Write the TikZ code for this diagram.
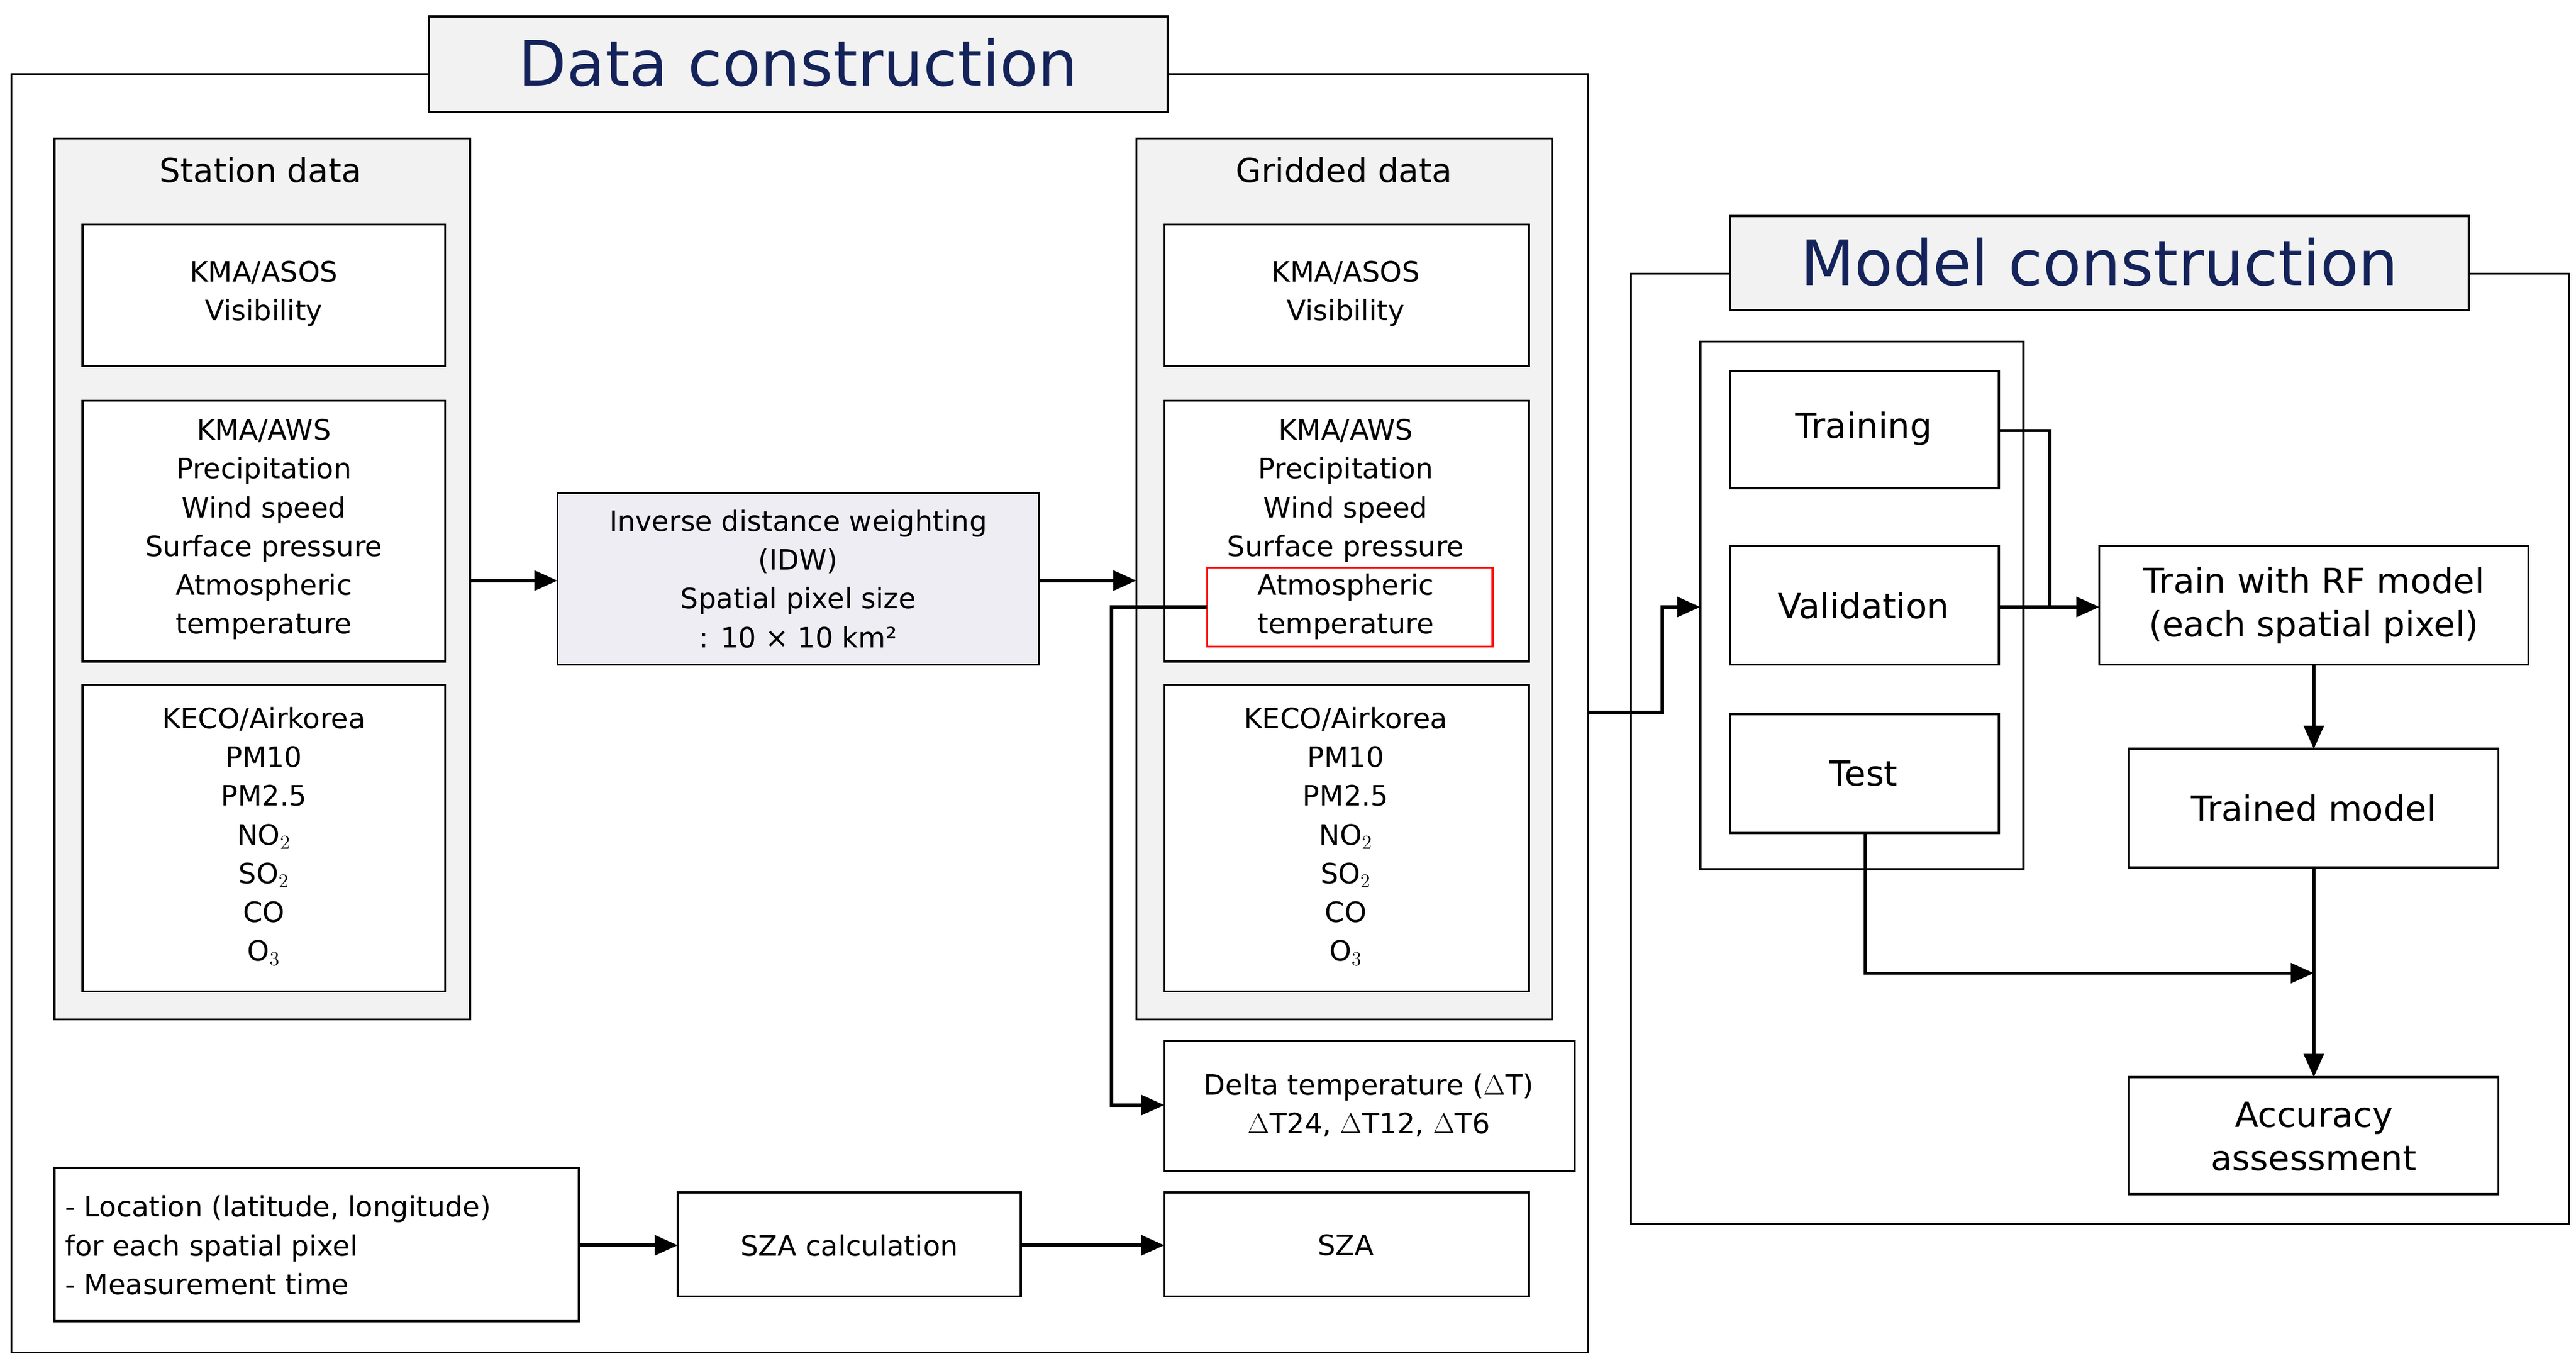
\documentclass[tikz,border=0pt]{standalone}
\usepackage{fontspec}
\setmainfont{DejaVu Sans}
\usetikzlibrary{arrows.meta}
\definecolor{navy}{RGB}{20,35,90}
\begin{document}
\begin{tikzpicture}[x=1pt,y=-1pt,
 bx/.style={draw,line width=1.2pt,fill=white},
 gbox/.style={draw,line width=1.2pt,fill=black!5},
 txt/.style={align=center,font=\fontsize{17}{23.5}\selectfont},
 ttl/.style={font=\fontsize{38}{44}\selectfont,text=navy},
 arr/.style={line width=2pt,-{Triangle[length=14pt,width=12pt]}},
 ln/.style={line width=2pt}]
\useasboundingbox (0,0) rectangle (1562,825);
% Data construction
\draw[line width=1.2pt] (7,45) rectangle (963,820);
\draw[gbox] (260,10) rectangle (708,68);
\node[ttl] (t1) at (484,38) {Data construction};
% Station
\draw[gbox] (33,84) rectangle (285,618);
\node[txt,font=\fontsize{20}{24}\selectfont] (sl) at (158,103) {Station data};
\draw[bx] (50,136) rectangle (270,222);
\node[txt] (s1) at (160,178) {KMA/ASOS\\Visibility};
\draw[bx] (50,243) rectangle (270,401);
\node[txt] (s2) at (160,321) {KMA/AWS\\Precipitation\\Wind speed\\Surface pressure\\Atmospheric\\temperature};
\draw[bx] (50,415) rectangle (270,601);
\node[txt] (s3) at (160,507) {KECO/Airkorea\\PM10\\PM2.5\\NO$_2$\\SO$_2$\\CO\\O$_3$};
% IDW
\draw[draw,line width=1.2pt,fill={rgb,255:red,238;green,237;blue,243}] (338,299) rectangle (630,403);
\node[txt] (idw) at (484,351) {Inverse distance weighting\\(IDW)\\Spatial pixel size\\: 10 × 10 km²};
% Gridded
\draw[gbox] (689,84) rectangle (941,618);
\node[txt,font=\fontsize{20}{24}\selectfont] (gl) at (815,103) {Gridded data};
\draw[bx] (706,136) rectangle (927,222);
\node[txt] (g1) at (816,178) {KMA/ASOS\\Visibility};
\draw[bx] (706,243) rectangle (927,401);
\draw[red,line width=1.2pt] (732,344) rectangle (905,392);
\node[txt] (g2) at (816,321) {KMA/AWS\\Precipitation\\Wind speed\\Surface pressure\\Atmospheric\\temperature};
\draw[bx] (706,415) rectangle (927,601);
\node[txt] (g3) at (816,507) {KECO/Airkorea\\PM10\\PM2.5\\NO$_2$\\SO$_2$\\CO\\O$_3$};
\draw[bx] (706,631) rectangle (955,710);
\node[txt] (dt) at (830,670) {Delta temperature ($\Delta$T)\\$\Delta$T24, $\Delta$T12, $\Delta$T6};
% Bottom row
\draw[bx] (33,708) rectangle (351,801);
\node[txt,align=left,anchor=west] (loc) at (36,755) {- Location (latitude, longitude)\\for each spatial pixel\\- Measurement time};
\draw[bx] (411,723) rectangle (619,786);
\node[txt] (szac) at (515,755) {SZA calculation};
\draw[bx] (706,723) rectangle (927,786);
\node[txt] (sza) at (816,755) {SZA};
\coordinate (a1) at (285,352); \coordinate (a2) at (338,352);
\coordinate (a3) at (630,352); \coordinate (a4) at (689,352);
\coordinate (r1) at (732,368); \coordinate (r2) at (674,368); \coordinate (r3) at (674,670); \coordinate (r4) at (706,670);
\coordinate (l1) at (351,755); \coordinate (l2) at (411,755); \coordinate (l3) at (619,755); \coordinate (l4) at (706,755);
\draw[arr] (a1) -- (a2);
\draw[arr] (a3) -- (a4);
\draw[arr] (r1) -- (r2) -- (r3) -- (r4);
\draw[arr] (l1) -- (l2);
\draw[arr] (l3) -- (l4);
% Model construction
\draw[line width=1.2pt] (989,166) rectangle (1558,742);
\draw[gbox] (1049,131) rectangle (1497,188);
\node[ttl] (t2) at (1273,159) {Model construction};
\draw[bx] (1031,207) rectangle (1227,527);
\draw[bx] (1049,225) rectangle (1212,296);
\node[txt,font=\fontsize{21}{26}\selectfont] (tr) at (1130,260) {Training};
\draw[bx] (1049,331) rectangle (1212,403);
\node[txt,font=\fontsize{21}{26}\selectfont] (va) at (1130,367) {Validation};
\draw[bx] (1049,433) rectangle (1212,505);
\node[txt,font=\fontsize{21}{26}\selectfont] (te) at (1130,469) {Test};
\draw[bx] (1273,331) rectangle (1533,403);
\node[txt,font=\fontsize{21}{26}\selectfont] (rf) at (1403,367) {Train with RF model\\(each spatial pixel)};
\draw[bx] (1291,454) rectangle (1515,526);
\node[txt,font=\fontsize{21}{26}\selectfont] (tm) at (1403,490) {Trained model};
\draw[bx] (1291,653) rectangle (1515,724);
\node[txt,font=\fontsize{21}{26}\selectfont] (acc) at (1403,689) {Accuracy\\assessment};
\coordinate (m1) at (963,432); \coordinate (m2) at (1008,432); \coordinate (m3) at (1008,368); \coordinate (m4) at (1031,368);
\draw[arr] (m1) -- (m2) -- (m3) -- (m4);
\coordinate (p1) at (1212,261); \coordinate (p2) at (1243,261); \coordinate (p3) at (1243,368);
\coordinate (v1) at (1212,368); \coordinate (v2) at (1273,368);
\draw[ln] (p1) -- (p2) -- (p3);
\draw[arr] (v1) -- (v2);
\coordinate (q1) at (1403,403); \coordinate (q2) at (1403,454);
\draw[arr] (q1) -- (q2);
\coordinate (q3) at (1403,526); \coordinate (q4) at (1403,653);
\draw[arr] (q3) -- (q4);
\coordinate (e1) at (1131,505); \coordinate (e2) at (1131,590); \coordinate (e3) at (1403,590);
\draw[arr] (e1) -- (e2) -- (e3);
\end{tikzpicture}
\end{document}
